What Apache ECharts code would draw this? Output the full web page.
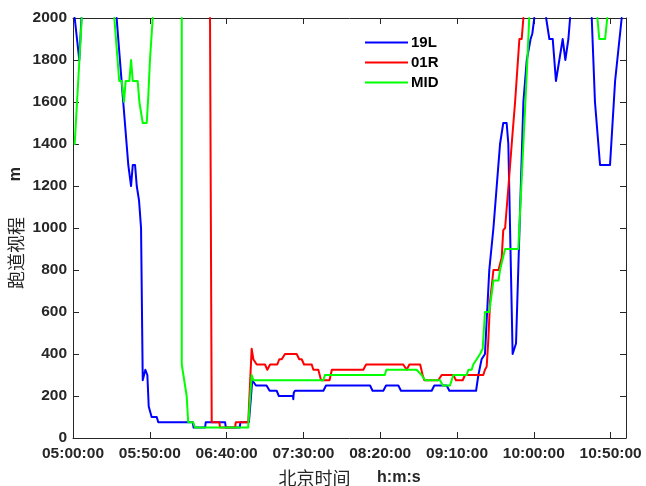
<!DOCTYPE html>
<html>
<head>
<meta charset="utf-8">
<script src="https://cdn.jsdelivr.net/npm/echarts@6/dist/echarts.min.js"></script>
<style>html,body{margin:0;padding:0;background:#fff}#c{width:646px;height:486px}</style>
</head>
<body>
<div id="c"></div>
<script>
// Minutes after 05:00:00 and RVR values (m); null = above 2000 m (off the chart)
var blueT = [1.1, 4.1, 5.5, 6, 28.4, 32.7, 36, 37.8, 38.9, 40.4, 41.5, 43, 44.3, 45.4, 47.1, 48.4, 49.3, 51.2, 54.5, 55.5, 78, 78.5, 86, 86.4, 99, 99.5, 108.5, 109, 114.5, 115.7, 116.7, 119.1, 126, 128, 132.6, 134, 143.2, 143.4, 143.7, 144.5, 163, 164.7, 193.4, 195, 202, 203.8, 211.8, 213.5, 233.5, 235.2, 243.3, 245, 262.4, 263.9, 266, 268.2, 269.3, 271, 272, 273.7, 278, 279, 280.1, 282.3, 283.4, 284.5, 286.2, 287, 288.4, 289.3, 293.2, 294.3, 295.4, 296.5, 297.9, 299, 300.3, 301, 308, 310.1, 312.3, 314.4, 315.5, 316.6, 318.8, 320.5, 322.5, 323.6, 324, 337.7, 339.8, 343.1, 349.6, 352.9, 354, 357.2];
var blueV = [2000, 1800, 2000, null, 2000, 1600, 1300, 1200, 1300, 1300, 1200, 1130, 1000, 275, 325, 300, 150, 100, 100, 75, 75, 50, 50, 75, 75, 50, 50, 75, 75, 180, 275, 250, 250, 225, 225, 200, 200, 185, 215, 225, 225, 250, 250, 225, 225, 250, 250, 225, 225, 250, 250, 225, 225, 300, 375, 400, 400, 800, 800, 1000, 1400, 1400, 1500, 1500, 1400, 1400, 400, 400, 450, 450, 1600, 1600, 1800, 1800, 1900, 1925, 2000, null, 2000, 1900, 1900, 1700, 1700, 1800, 1900, 1800, 1900, 2000, null, 2000, 1600, 1300, 1300, 1700, 1700, 2000];

var redT = [89.2, 90.3, 95.3, 95.7, 105.5, 106, 114.1, 116.3, 117.4, 119.6, 125, 126.5, 128.3, 133, 134.3, 135.9, 138, 145.6, 147.3, 148.9, 150.4, 155.4, 156.5, 159.7, 161.5, 167, 168.5, 189, 190.8, 215, 217.2, 219, 226, 227.6, 228.7, 237.8, 240, 247.6, 249.3, 253.7, 255.2, 267.1, 268.2, 269.3, 270.4, 271.5, 273.7, 277, 279.1, 280.1, 281.3, 283.5, 284.5, 285.6, 287.8, 290.6, 292.1, 293.2];
var redV = [2000, 75, 75, 50, 50, 75, 75, 425, 375, 350, 350, 325, 350, 350, 375, 375, 400, 400, 375, 375, 350, 350, 325, 325, 275, 275, 325, 325, 350, 350, 325, 350, 350, 300, 275, 275, 300, 300, 275, 275, 300, 300, 325, 340, 470, 650, 800, 800, 860, 990, 1000, 1200, 1200, 1400, 1600, 1900, 1900, 2000];

var greenT = [1.1, 5.7, 6, 26.9, 30.1, 31.7, 33.2, 34.3, 36.7, 37.8, 38.9, 42.1, 43.2, 44.3, 45.4, 48, 49, 50.1, 51.9, 52, 70.8, 70.8, 74, 75, 78.3, 79.4, 114, 116.3, 117.4, 163, 164, 203, 204, 223.7, 226.9, 229.2, 239, 240.7, 245.4, 247.6, 256.3, 257.4, 259.5, 260.6, 262.8, 265, 266.7, 268.2, 271, 273.7, 277, 278, 281.3, 289.9, 295.8, 297, 298, 341.4, 342.6, 346.4, 347.8];
var greenV = [1400, 2000, null, 2000, 1700, 1700, 1600, 1700, 1700, 1800, 1700, 1700, 1600, 1600, 1500, 1500, 1625, 1800, 2000, null, 2000, 350, 200, 75, 75, 50, 50, 300, 275, 275, 300, 300, 325, 325, 300, 275, 275, 250, 250, 300, 300, 325, 325, 350, 375, 400, 425, 600, 600, 750, 750, 800, 900, 900, 1800, 2000, null, 2000, 1900, 1900, 2000];

var seriesNames = ['19L', '01R', 'MID'];
var seriesColors = ['#0000ff', '#ff0000', '#00ff00'];
var yTicks = [0, 2000, 200];     // min, max, interval
var xTicks = [0, 360, 50];       // minutes after 05:00

function zip(t, v) {
  return t.map(function (x, i) { return [x, v[i] === null ? '-' : v[i]]; });
}
function pad(n) { return (n < 10 ? '0' : '') + n; }
function fmt(v) {
  if (v >= 360) return '';
  var h = 5 + Math.floor(v / 60), m = Math.round(v % 60);
  return pad(h) + ':' + pad(m) + ':00';
}

var axisColor = '#262626';
var font = 'Liberation Sans, Arial, sans-serif';
var chart = echarts.init(document.getElementById('c'), null, { renderer: 'canvas' });
var baseX = {
  type: 'value', min: xTicks[0], max: xTicks[1], interval: xTicks[2],
  axisLine: { show: true, onZero: false, lineStyle: { color: axisColor, width: 1 } },
  axisTick: { show: true, inside: true, length: 6, lineStyle: { color: axisColor } },
  splitLine: { show: false }
};
var baseY = {
  type: 'value', min: yTicks[0], max: yTicks[1], interval: yTicks[2],
  axisLine: { show: true, onZero: false, lineStyle: { color: axisColor, width: 1 } },
  axisTick: { show: true, inside: true, length: 6, lineStyle: { color: axisColor } },
  splitLine: { show: false }
};
var lineIcon = 'path://M0,0 L43,0 L43,2 L0,2 Z';

chart.setOption({
  animation: false,
  backgroundColor: '#fff',
  grid: { left: 73, right: 20, top: 18, bottom: 48, containLabel: false, outerBoundsMode: 'none' },
  legend: {
    orient: 'vertical', left: 365, top: 35, padding: 0,
    itemWidth: 43, itemHeight: 14, itemGap: 5,
    icon: lineIcon,
    textStyle: { fontFamily: font, fontWeight: 'bold', fontSize: 15, color: '#000', padding: [0, 0, 0, -2] },
    data: seriesNames
  },
  xAxis: [
    Object.assign({}, baseX, {
      position: 'bottom',
      axisLabel: { show: true, margin: 8, formatter: fmt, fontFamily: font, fontWeight: 'bold', fontSize: 15.5, color: '#262626' },
      name: '{cn|北京时间}{en|      h:m:s}',
      nameLocation: 'middle', nameGap: 31, nameMoveOverlap: false,
      nameTextStyle: {
        rich: {
          cn: { fontFamily: 'Noto Sans CJK SC', fontSize: 18, color: '#262626' },
          en: { fontFamily: font, fontWeight: 'bold', fontSize: 16, color: '#262626' }
        }
      }
    }),
    Object.assign({}, baseX, { position: 'top', axisLabel: { show: false } })
  ],
  yAxis: [
    Object.assign({}, baseY, {
      position: 'left',
      axisLabel: { show: true, margin: 6, formatter: function (v) { return String(v); }, fontFamily: font, fontWeight: 'bold', fontSize: 15.5, color: '#262626' },
      name: '{cn|跑道视程}{en|        m}',
      nameLocation: 'middle', nameGap: 48, nameMoveOverlap: false,
      nameTextStyle: {
        rich: {
          cn: { fontFamily: 'Noto Sans CJK SC', fontSize: 18, color: '#262626' },
          en: { fontFamily: font, fontWeight: 'bold', fontSize: 16, color: '#262626' }
        }
      }
    }),
    Object.assign({}, baseY, { position: 'right', axisLabel: { show: false } })
  ],
  series: [
    { name: seriesNames[0], data: zip(blueT, blueV) },
    { name: seriesNames[1], data: zip(redT, redV) },
    { name: seriesNames[2], data: zip(greenT, greenV) }
  ].map(function (s, i) {
    return Object.assign(s, {
      type: 'line', symbol: 'none', showSymbol: false, clip: true, connectNulls: false,
      color: seriesColors[i],
      lineStyle: { color: seriesColors[i], width: 2, join: 'round', cap: 'round' },
      emphasis: { disabled: true }
    });
  })
});
</script>
</body>
</html>
